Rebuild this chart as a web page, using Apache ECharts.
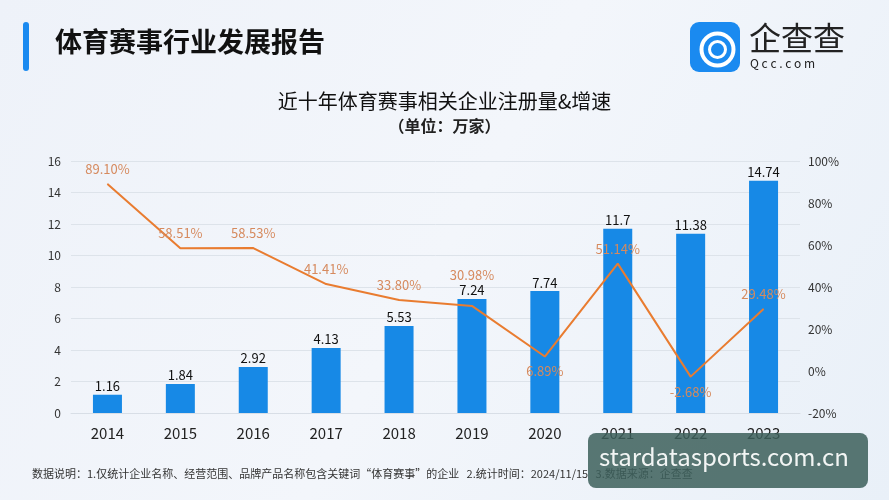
<!doctype html>
<html>
<head>
	<meta charset="utf-8">
	<title>体育赛事行业发展报告</title>
	<style>
		html, body { margin: 0; padding: 0; }
		#main { width: 889px; height: 500px; }
	</style>
</head>
<body>
<div id="main"></div>
<script src="https://cdn.jsdelivr.net/npm/echarts@6/dist/echarts.min.js"></script>
<script>
	// 数据
	var years = ['2014', '2015', '2016', '2017', '2018', '2019', '2020', '2021', '2022', '2023']
	var regCount = [1.16, 1.84, 2.92, 4.13, 5.53, 7.24, 7.74, 11.7, 11.38, 14.74]
	var growth = [89.10, 58.51, 58.53, 41.41, 33.80, 30.98, 6.89, 51.14, -2.68, 29.48]

	var font = '"Noto Sans CJK SC", "Noto Sans", sans-serif'
	var myChart = echarts.init(document.getElementById('main'))

	// 标签位置：2020、2022 在线下，2019 抬高避开柱顶数字
	var lineData = growth.map(function (v, i) {
		var y = years[i]
		var lab = { position: (y == '2020' || y == '2022') ? 'bottom' : 'top' }
		if (y == '2019') lab.distance = 24
		return { value: v, label: lab }
	})

	var option = {
		backgroundColor: new echarts.graphic.LinearGradient(0, 0, 1, 1, [
			{ offset: 0, color: '#eef2f9' },
			{ offset: 0.5, color: '#f3f6fb' },
			{ offset: 1, color: '#e9f0f8' }
		]),
		textStyle: { fontFamily: font },
		title: [{
			text: '近十年体育赛事相关企业注册量&增速',
			left: 'center',
			top: 86,
			textStyle: { fontSize: 20, fontWeight: 'normal', color: '#111' }
		}, {
			text: '（单位：万家）',
			left: 'center',
			top: 113,
			textStyle: { fontSize: 16, fontWeight: 'bold', color: '#222' }
		}],
		grid: { left: 71, right: 89, top: 161, bottom: 87 },
		xAxis: {
			type: 'category',
			data: years,
			axisLine: { lineStyle: { color: '#d8dee6' } },
			axisTick: { show: false },
			axisLabel: { fontSize: 15, color: '#222', margin: 13 }
		},
		yAxis: [{
			type: 'value',
			min: 0, max: 16, interval: 2,
			axisLabel: { fontSize: 12, color: '#333', margin: 10 },
			splitLine: { lineStyle: { color: '#dde3ea' } }
		}, {
			type: 'value',
			min: -20, max: 100, interval: 20,
			axisLabel: { fontSize: 12, color: '#333', margin: 8, formatter: '{value}%' },
			splitLine: { show: false }
		}],
		series: [{
			name: '注册量',
			type: 'bar',
			data: regCount,
			barWidth: 29,
			itemStyle: { color: '#1789e6' },
			label: { show: true, position: 'top', distance: 2, fontSize: 13, color: '#111' }
		}, {
			name: '增速',
			type: 'line',
			yAxisIndex: 1,
			data: lineData,
			symbol: 'circle',
			symbolSize: 1,
			itemStyle: { color: '#e97c30' },
			lineStyle: { color: '#e97c30', width: 2 },
			label: {
				show: true, fontSize: 13, color: '#d68a5e', distance: 8,
				formatter: function (p) { return p.value.toFixed(2) + '%' }
			},
			z: 3
		}],
		graphic: [
			{ type: 'rect', left: 23, top: 22, shape: { width: 6, height: 49, r: 3 }, style: { fill: '#1a8af0' } },
			{ type: 'text', left: 55, top: 28, style: { text: '体育赛事行业发展报告', font: 'bold 27px ' + font, fill: '#111' } },
			// logo
			{ type: 'rect', left: 690, top: 22, shape: { width: 50, height: 50, r: 9 }, style: { fill: '#1a8af0' } },
			{ type: 'circle', left: 699, top: 31, shape: { r: 16 }, style: { fill: 'none', stroke: '#fff', lineWidth: 4 } },
			{ type: 'circle', left: 707, top: 39, shape: { r: 8 }, style: { fill: 'none', stroke: '#fff', lineWidth: 3 } },
			{ type: 'text', left: 749, top: 22, style: { text: '企查查', font: '32px ' + font, fill: '#222' } },
			{ type: 'text', left: 750, top: 57, style: { text: 'Q c c . c o m', font: '12px ' + font, fill: '#222' } },
			// 说明
			{ type: 'text', left: 32, top: 468, style: { text: '数据说明：1.仅统计企业名称、经营范围、品牌产品名称包含关键词“体育赛事”的企业   2.统计时间：2024/11/15   3.数据来源：企查查', font: '11px ' + font, fill: '#333' } },
			// 水印
			{ type: 'rect', left: 588, top: 433, z: 100, shape: { width: 280, height: 55, r: 8 }, style: { fill: 'rgba(60,95,90,0.85)' } },
			{ type: 'text', left: 599, top: 445, z: 101, style: { text: 'stardatasports.com.cn', font: '24px ' + font, fill: '#f2f5f4' } }
		]
	}
	myChart.setOption(option)
</script>
</body>
</html>
